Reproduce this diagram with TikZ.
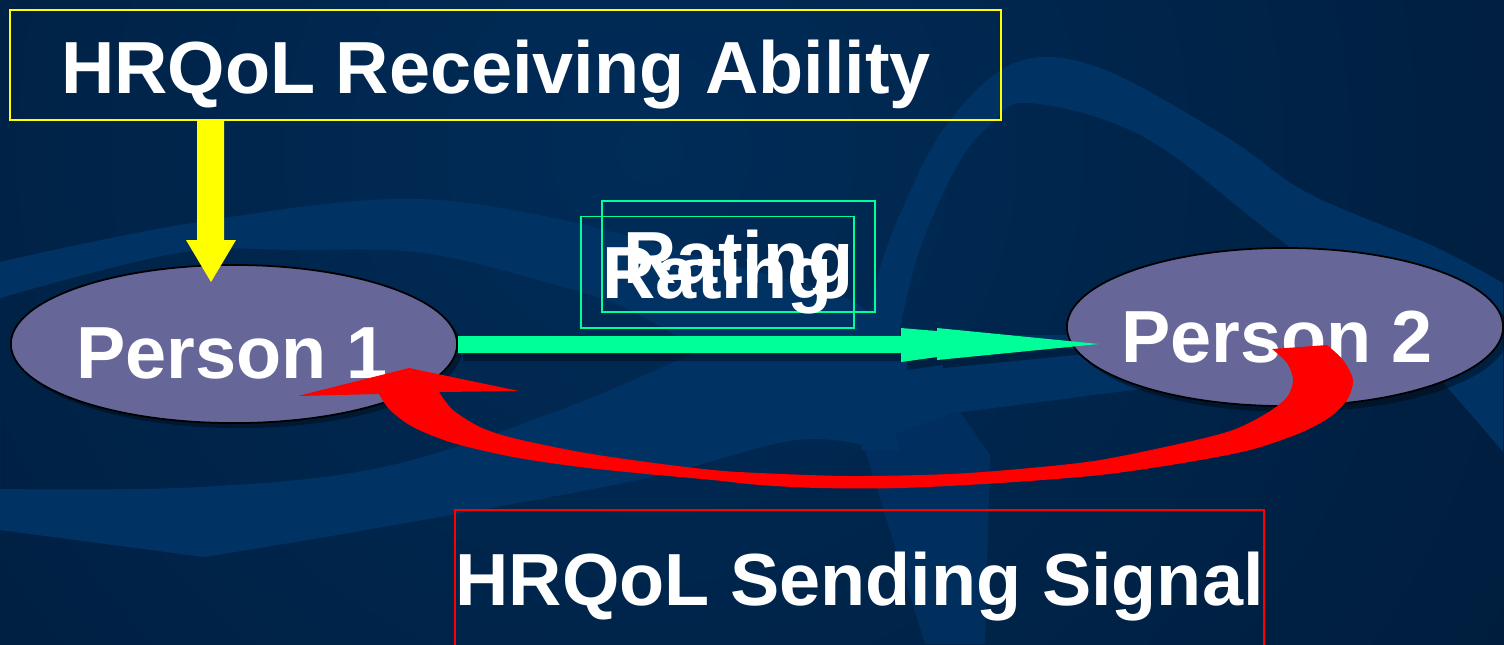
\documentclass[tikz,border=0pt]{standalone}
\usepackage{fontspec}
\setmainfont{Liberation Sans}
\usetikzlibrary{shapes.geometric,calc}
\definecolor{bgin}{RGB}{0,44,88}
\definecolor{bgout}{RGB}{0,20,45}
\definecolor{band}{RGB}{0,50,100}
\definecolor{pfill}{RGB}{102,102,153}
\definecolor{grn}{RGB}{0,255,153}
\definecolor{ylw}{RGB}{255,255,0}
\definecolor{rd}{RGB}{255,0,0}
\begin{document}
\begin{tikzpicture}[x=0.01cm,y=-0.01cm,
  lbl/.style={font=\bfseries\fontsize{21}{25}\selectfont, text=white, inner sep=0pt},
  person/.style={ellipse, draw=black, line width=0.5pt, fill=pfill, inner sep=0pt, minimum height=1.58cm},
  ratebox/.style={lbl, draw=grn, line width=0.55pt, minimum width=2.73cm, minimum height=1.11cm, text depth=0pt},
  titlebox/.style={draw=#1, line width=0.55pt, inner sep=0pt},
  shadowcol/.style={fill=black, opacity=0.35}
]
\useasboundingbox (0,0) rectangle (1504,644);
% ---------- background ----------
\begin{scope}
\clip (0,0) rectangle (1504,644);
\shade[inner color=bgin, outer color=bgout] (-950,-1450) rectangle (2250,1750);
% upper-left wave and middle light region, with dark hole around person 1
\fill[band, even odd rule]
  plot[smooth, tension=0.6] coordinates {(0,262) (180,225) (393,199) (549,217) (720,262) (850,300) (890,340)}
  -- plot[smooth, tension=0.6] coordinates {(890,340) (900,400) (880,450)}
  -- plot[smooth, tension=0.6] coordinates {(880,450) (797,440) (638,480) (383,527) (204,557)}
  -- (0,530) -- cycle
  plot[smooth, tension=0.6] coordinates {(0,298) (178,253) (300,250) (424,253) (549,283) (623,307) (700,350)}
  -- plot[smooth, tension=0.6] coordinates {(700,350) (560,410) (383,467) (200,487) (0,489)} -- cycle;
% arch
\fill[band]
  plot[smooth, tension=0.6] coordinates {(862,450) (867,370) (875,287) (904,205) (950,120) (1017,62) (1100,68) (1225,136) (1308,193) (1433,246) (1503,283)}
  -- (1503,452)
  -- plot[smooth, tension=0.6] coordinates {(1503,452) (1392,329) (1267,230) (1142,136) (1029,103) (990,125) (958,164) (921,246) (900,329) (890,400) (900,450)} -- cycle;
% lower leg of the swoosh and light area under the green arrow
\fill[band, opacity=0.8] (862,440) -- (960,412) -- (990,455) -- (985,644) -- (925,644) -- cycle;
\fill[band] (860,335) -- (1180,335) -- (1180,383) -- (1133,390) -- (954,413) -- (860,445) -- cycle;
\end{scope}
% ---------- shadows ----------
\fill[shadowcol] (239,349) ellipse [x radius=223, y radius=79];
\fill[shadowcol] (1291,333) ellipse [x radius=218, y radius=79];
\fill[shadowcol] (463,344) -- (907,344) -- (907,336) -- (943,339) -- (943,336) -- (1105,352) -- (943,368) -- (943,365) -- (907,370) -- (907,361) -- (463,361) -- cycle;
% ---------- nodes ----------
\node[titlebox=ylw, minimum width=9.91cm, minimum height=1.10cm] (rbox) at (505.5,65) {};
\node[lbl, anchor=base] (rtext) at (496,93) {HRQoL Receiving Ability};
\node[titlebox=rd, lbl, minimum width=7.95cm, minimum height=1.38cm, text depth=0pt] (sbox) at (859.5,579) {HRQoL Sending Signal};
\node[person, minimum width=4.46cm] (p1) at (234,344) {};
\node[lbl, anchor=base] (p1t) at (232,378) {Person 1};
\node[person, minimum width=4.36cm] (p2) at (1285,327) {};
\node[lbl, anchor=base] (p2t) at (1277,362) {Person 2};
\node[ratebox] (ra) at (738.5,256.5) {Rating};
\node[ratebox] (rb) at (717.5,272) {Rating};
% ---------- connectors ----------
% yellow arrow
\coordinate (ytip) at (211,282);
\fill[ylw] ($(rbox.south -| ytip)+(-14,0)$) -- ($(rbox.south -| ytip)+(13,0)$) -- (224,240) -- (236,240) -- (ytip) -- (186,240) -- (197,240) -- cycle;
% green arrow
\coordinate (gtip) at (1099,344);
\fill[grn] ($(p1.east)+(0,-8)$) -- (901,336) -- (901,328) -- (937,331) -- (937,328) -- (gtip) -- (937,360) -- (937,357) -- (901,362) -- (901,353) -- ($(p1.east)+(0,9)$) -- cycle;
% red curved arrow
\coordinate (rtip) at (409,368);
\fill[rd] (1272,349) -- (1327,345)
  -- plot[smooth, tension=0.5] coordinates {(1327,345) (1343,360) (1353,380) (1347,400) (1330,417) (1300,433) (1250,450) (1183,463) (1100,475) (1000,483) (900,488) (820,488) (760,485) (713,480) (647,474) (580,467) (513,457) (453,443) (413,427) (390,410) (379,394)}
  -- (298,396) -- (rtip) -- (519,391) -- (439,392)
  -- plot[smooth, tension=0.5] coordinates {(439,392) (453,410) (480,427) (513,438) (580,452) (647,462) (713,470) (760,473) (850,476) (950,474) (1030,468) (1100,460) (1183,443) (1233,430) (1267,413) (1287,397) (1293,380) (1287,363) (1272,349)}
  -- cycle;
\end{tikzpicture}
\end{document}
